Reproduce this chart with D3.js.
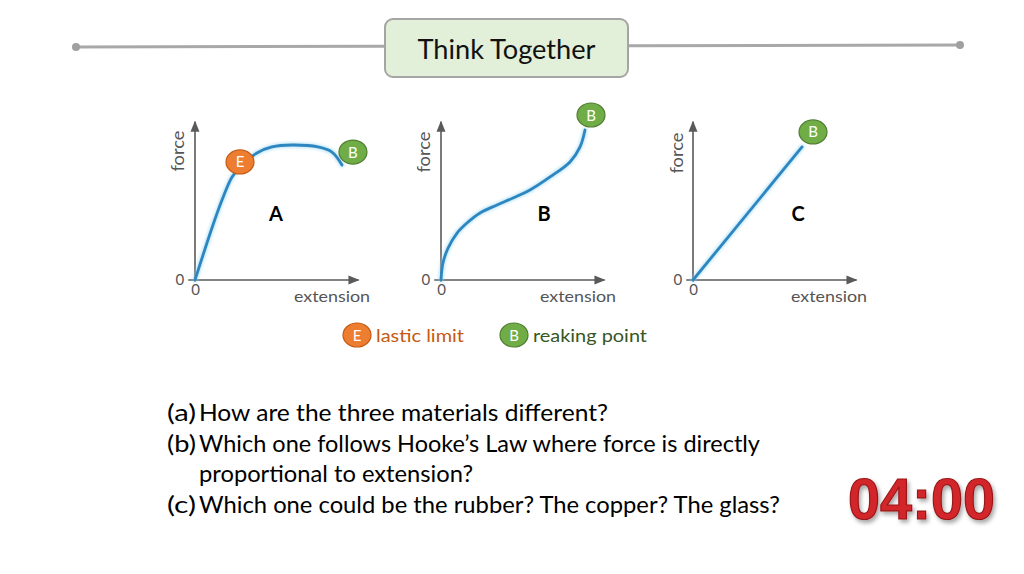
<!DOCTYPE html>
<html><head><meta charset="utf-8">
<script src="https://cdn.jsdelivr.net/npm/d3@7"></script>
<style>html,body{margin:0;padding:0;background:#fff;}svg{display:block;}</style>
</head><body>
<svg id="c" width="1024" height="574"></svg>
<script>
// ---- data ----
const panels = ["A", "B", "C"];
const curveA = [[0,0],[1.13,3.47],[1.8,5.33],[2.47,6.87],[3.13,7.67],[4.13,8.47],[5.13,8.87],[6.47,9.0],[8.2,8.87],[9.13,8.53],[9.8,7.67]];
const curveB = [[0,0],[0.13,1.13],[0.47,2.13],[1.07,3.13],[1.73,3.8],[2.6,4.47],[3.73,5.0],[4.8,5.47],[5.93,6.0],[7.27,6.87],[8.6,7.87],[9.27,8.87],[9.6,10.0]];
const curveC = [[0,0],[7.27,8.87]];
const curves = [curveA, curveB, curveC];
const markersE = [[3.0,7.87], null, null];
const markersB = [[10.53,8.53],[10.0,11.0],[8.0,9.87]];
const panelLabelPos = [[5.4,4.0],[6.87,4.0],[7.0,4.0]];
const tickValues = [0];
const axisLabels = {x: "extension", y: "force"};
const legendItems = [{letter:"E", text:"lastic limit"},{letter:"B", text:"reaking point"}];
const title = "Think Together";
const questions = [
  {tag:"(a)", text:"How are the three materials different?"},
  {tag:"(b)", text:"Which one follows Hooke\u2019s Law where force is directly"},
  {tag:"", text:"proportional to extension?"},
  {tag:"(c)", text:"Which one could be the rubber? The copper? The glass?"}
];
const timerText = "04:00";

// ---- drawing ----
const svg = d3.select("#c");
const font = "Lato, 'Open Sans', sans-serif";
const defs = svg.append("defs");
defs.append("marker").attr("id","arr").attr("viewBox","0 0 10 10").attr("refX",9).attr("refY",5)
  .attr("markerWidth",7).attr("markerHeight",7).attr("orient","auto")
  .append("path").attr("d","M0,1 L10,5 L0,9 Z").attr("fill","#5a5a5a");
const sh = defs.append("filter").attr("id","sh").attr("x","-10%").attr("y","-10%").attr("width","130%").attr("height","140%");
sh.append("feDropShadow").attr("dx",2).attr("dy",3).attr("stdDeviation",2).attr("flood-color","#000").attr("flood-opacity",0.35);
const glow = defs.append("filter").attr("id","glow").attr("x","-20%").attr("y","-20%").attr("width","140%").attr("height","140%");
glow.append("feGaussianBlur").attr("stdDeviation",1.6).attr("in","SourceGraphic");

// header
svg.append("line").attr("x1",76).attr("y1",47).attr("x2",960).attr("y2",45)
  .attr("stroke","#a8a8a8").attr("stroke-width",3);
svg.append("circle").attr("cx",76).attr("cy",47).attr("r",4).attr("fill","#a0a0a0");
svg.append("circle").attr("cx",960).attr("cy",45).attr("r",4).attr("fill","#a0a0a0");
svg.append("rect").attr("x",385).attr("y",19).attr("width",243).attr("height",58).attr("rx",8)
  .attr("fill","#e2efd9").attr("stroke","#a5a5a5").attr("stroke-width",2);
svg.append("text").attr("x",506.5).attr("y",59).attr("text-anchor","middle")
  .attr("font-family",font).attr("font-size",27).attr("fill","#111")
  .attr("textLength",178).attr("lengthAdjust","spacingAndGlyphs").text(title);

// panels
const origins = [195, 441, 693];
const extStart = [294, 540, 791];
const forceY = [[178,151],[424,152],[677,153]];
const line = d3.line().curve(d3.curveCatmullRom.alpha(0.5));

function badge(g, cx, cy, letter, fill, stroke) {
  g.append("ellipse").attr("cx",cx).attr("cy",cy).attr("rx",14).attr("ry",12)
    .attr("fill",fill).attr("stroke",stroke).attr("stroke-width",1.2);
  g.append("text").attr("x",cx).attr("y",cy+5.5).attr("text-anchor","middle")
    .attr("font-family",font).attr("font-size",15).attr("fill","#fff").text(letter);
}

panels.forEach((p, i) => {
  const x0 = origins[i];
  const x = d3.scaleLinear().domain([0,10]).range([x0, x0+150]);
  const y = d3.scaleLinear().domain([0,10]).range([280, 130]);
  const g = svg.append("g");
  g.append("line").attr("x1",x(-0.45)).attr("y1",y(0)).attr("x2",x(10.9)).attr("y2",y(0))
    .attr("stroke","#5a5a5a").attr("stroke-width",1.6).attr("marker-end","url(#arr)");
  g.append("line").attr("x1",x(0)).attr("y1",y(-0.1)).attr("x2",x(0)).attr("y2",y(10.55))
    .attr("stroke","#5a5a5a").attr("stroke-width",1.6).attr("marker-end","url(#arr)");
  const ya = g.append("g").attr("transform",`translate(${x(-0.45)},0)`)
    .call(d3.axisLeft(y).tickValues(tickValues).tickSize(0).tickPadding(4));
  const xa = g.append("g").attr("transform",`translate(0,${y(0)})`)
    .call(d3.axisBottom(x).tickValues(tickValues).tickSize(0).tickPadding(4));
  [ya, xa].forEach(a => {
    a.select(".domain").remove();
    a.selectAll("text").attr("font-family",font).attr("font-size",15).attr("fill","#555");
  });
  g.append("text").attr("x",extStart[i]).attr("y",302).attr("font-family",font)
    .attr("font-size",16).attr("fill","#555").attr("textLength",76).attr("lengthAdjust","spacingAndGlyphs")
    .text(axisLabels.x);
  g.append("text").attr("transform",`translate(${forceY[i][0]+6},${forceY[i][1]}) rotate(-90)`)
    .attr("text-anchor","middle").attr("font-family",font).attr("font-size",17.5).attr("fill","#555")
    .attr("textLength",41).attr("lengthAdjust","spacingAndGlyphs")
    .text(axisLabels.y);
  const pts = curves[i].map(d => [x(d[0]), y(d[1])]);
  g.append("path").attr("d",line(pts)).attr("fill","none").attr("stroke","#8fd3f0")
    .attr("stroke-width",5).attr("stroke-linecap","round").attr("opacity",0.6).attr("filter","url(#glow)");
  g.append("path").attr("d",line(pts)).attr("fill","none").attr("stroke","#2e86c1")
    .attr("stroke-width",2.8).attr("stroke-linecap","round");
  g.append("text").attr("x",x(panelLabelPos[i][0])).attr("y",y(panelLabelPos[i][1])+1)
    .attr("text-anchor","middle").attr("font-family",font).attr("font-weight","bold")
    .attr("font-size",20).attr("fill","#000").text(p);
  if (markersE[i]) badge(g, x(markersE[i][0]), y(markersE[i][1]), "E", "#ed7d31", "#c55a11");
  if (markersB[i]) badge(g, x(markersB[i][0]), y(markersB[i][1]), "B", "#70ad47", "#507e32");
});

// legend
const legendX = [357, 514];
const legendColors = [["#ed7d31","#c55a11","#c55a11"],["#70ad47","#507e32","#375623"]];
legendItems.forEach((d, i) => {
  const g = svg.append("g");
  badge(g, legendX[i], 335, d.letter, legendColors[i][0], legendColors[i][1]);
  g.append("text").attr("x",legendX[i]+19).attr("y",342).attr("font-family",font)
    .attr("font-size",18).attr("fill",legendColors[i][2])
    .attr("textLength", i===0 ? 88 : 114).attr("lengthAdjust","spacingAndGlyphs").text(d.text);
});

// questions
const qBase = [421, 452, 482, 513];
const qLen = [409, 561, 274, 581];
questions.forEach((q, i) => {
  if (q.tag) svg.append("text").attr("x",167).attr("y",qBase[i]).attr("font-family",font)
    .attr("font-size",23).attr("fill","#000").attr("textLength",29).attr("lengthAdjust","spacingAndGlyphs").text(q.tag);
  svg.append("text").attr("x",199).attr("y",qBase[i]).attr("font-family",font)
    .attr("font-size",23).attr("fill","#000").attr("textLength",qLen[i]).attr("lengthAdjust","spacingAndGlyphs").text(q.text);
});

// timer
svg.append("text").attr("x",848).attr("y",519).attr("font-family","'Liberation Sans', Arial, sans-serif")
  .attr("font-weight","bold").attr("font-size",58).attr("fill","#d3282b").attr("stroke","#9a1618")
  .attr("stroke-width",1.2).attr("filter","url(#sh)")
  .attr("textLength",147).attr("lengthAdjust","spacingAndGlyphs").text(timerText);
</script>
</body></html>
